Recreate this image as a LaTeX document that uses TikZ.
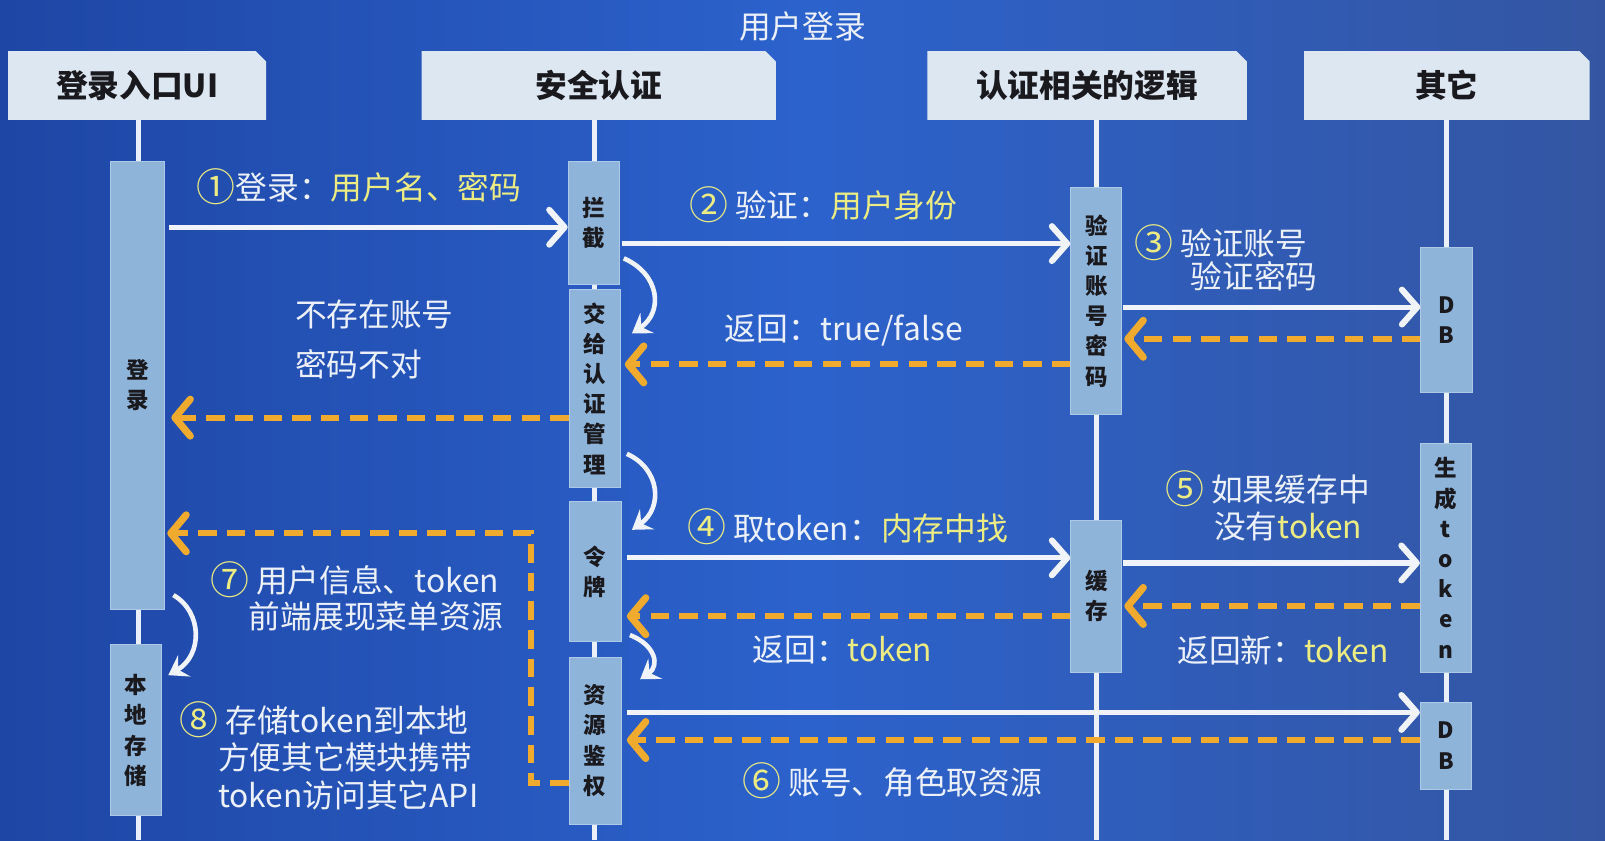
\documentclass[tikz,border=0pt]{standalone}
\usepackage{fontspec}
\setmainfont{Noto Sans CJK SC}
\usetikzlibrary{arrows.meta,calc}
\definecolor{bgl}{RGB}{30,70,165}
\definecolor{bgm}{RGB}{44,98,204}
\definecolor{bgr}{RGB}{52,86,162}
\definecolor{hdr}{RGB}{221,231,242}
\definecolor{actc}{RGB}{143,180,218}
\definecolor{actb}{RGB}{172,202,232}
\definecolor{lifec}{RGB}{235,240,248}
\definecolor{arrw}{RGB}{240,244,250}
\definecolor{orng}{RGB}{240,170,45}
\definecolor{ytxt}{RGB}{236,236,130}
\definecolor{wtxt}{RGB}{236,240,250}
\definecolor{boxtxt}{RGB}{25,25,30}
\newcommand{\yel}[1]{\textcolor{ytxt}{#1}}
\newcommand{\cnum}[1]{\textcolor{ytxt}{\fontsize{38}{38}\selectfont\raisebox{-1.5pt}{#1}}}
\tikzset{
  hdrbox/.style={rectangle, inner sep=0pt, minimum height=67pt, text=boxtxt,
    font=\bfseries\fontsize{31}{34}\selectfont,
    path picture={\fill[hdr] (path picture bounding box.south west) -- (path picture bounding box.north west)
      -- ($(path picture bounding box.north east)+(-10,0)$) -- ($(path picture bounding box.north east)+(0,10)$)
      -- (path picture bounding box.south east) -- cycle;}},
  act/.style={rectangle, fill=actc, draw=actb, line width=0.8pt, minimum width=50pt, inner sep=0pt,
    align=center, text=boxtxt, font=\bfseries\fontsize{22}{29.5}\selectfont},
  life/.style={draw=lifec, line width=5pt},
  warr/.style={draw=arrw, line width=5pt, -{Straight Barb[length=15pt,width=34pt,round,line width=6pt]}},
  oarr/.style={draw=orng, line width=6pt, dash pattern=on 18pt off 10pt, -{Straight Barb[length=15pt,width=36pt,round,line width=7pt]}},
  carr/.style={draw=arrw, line width=4.5pt, -{Stealth[length=18pt,width=24pt,inset=7pt]}},
  lbl/.style={text=wtxt, font=\fontsize{31}{34}\selectfont, inner sep=0pt, anchor=west},
}
\begin{document}
\begin{tikzpicture}[x=1pt,y=-1pt]
\useasboundingbox (0,0) rectangle (1568,821);
\shade[left color=bgl, right color=bgr, middle color=bgm] (0,0) rectangle (1568,821);

% title
\node[text=wtxt, font=\fontsize{31}{34}\selectfont, inner sep=0pt] (title) at (784,26) {用户登录};

% lifelines
\coordinate (l1t) at (135,117); \coordinate (l1b) at (135,821);
\coordinate (l2t) at (581,117); \coordinate (l2b) at (581,821);
\coordinate (l3t) at (1071,117); \coordinate (l3b) at (1071,821);
\coordinate (l4t) at (1413,117); \coordinate (l4b) at (1413,821);
\draw[life] (l1t) -- (l1b);
\draw[life] (l2t) -- (l2b);
\draw[life] (l3t) -- (l3b);
\draw[life] (l4t) -- (l4b);

% headers
\node[hdrbox, minimum width=252pt] (h1) at (134,83.5) {登录入口UI};
\node[hdrbox, minimum width=346pt] (h2) at (585,83.5) {安全认证};
\node[hdrbox, minimum width=312pt] (h3) at (1062,83.5) {认证相关的逻辑};
\node[hdrbox, minimum width=279pt] (h4) at (1413.5,83.5) {其它};

% activation boxes
\node[act, minimum width=53pt, minimum height=437pt] (login) at (134.5,376.5) {登\\录};
\node[act, minimum height=167pt] (store) at (133,713.5) {本\\地\\存\\储};
\node[act, minimum height=120pt] (lanjie) at (580,218) {拦\\截};
\node[act, minimum height=193pt] (jiaogei) at (581,379.5) {交\\给\\认\\证\\管\\理};
\node[act, minimum width=51pt, minimum height=137pt] (lingpai) at (581.5,558.5) {令\\牌};
\node[act, minimum width=51pt, minimum height=163pt] (ziyuan) at (581.5,723.5) {资\\源\\鉴\\权};
\node[act, minimum height=222pt] (verify) at (1071,294) {验\\证\\账\\号\\密\\码};
\node[act, minimum height=149pt] (cache) at (1071,582.5) {缓\\存};
\node[act, minimum height=141pt] (db1) at (1413,312.5) {D\\B};
\node[act, minimum height=224pt] (gen) at (1412.5,545) {生\\成\\t\\o\\k\\e\\n};
\node[act, minimum height=85pt] (db2) at (1412.5,728.5) {D\\B};

% messages
\draw[warr, shorten <=4pt] (login.east |- 0,222) -- (lanjie.west |- 0,222);
\draw[warr, shorten <=2pt] (lanjie.east |- 0,238) -- (verify.west |- 0,238);
\draw[warr, shorten <=1pt] (verify.east |- 0,300) -- (db1.west |- 0,300);
\draw[oarr, shorten >=2pt] (db1.west |- 0,331) -- (verify.east |- 0,331);
\draw[oarr, shorten >=4pt] (verify.west |- 0,356) -- (jiaogei.east |- 0,356);
\draw[oarr, shorten >=6pt] (jiaogei.west |- 0,408) -- (login.east |- 0,408);
\draw[warr, shorten <=5pt] (lingpai.east |- 0,545) -- (cache.west |- 0,545);
\draw[warr, shorten <=1pt] (cache.east |- 0,550) -- (gen.west |- 0,550);
\draw[oarr, shorten >=2pt] (gen.west |- 0,592) -- (cache.east |- 0,592);
\draw[oarr, shorten >=5pt] (cache.west |- 0,602) -- (lingpai.east |- 0,602);
\draw[warr, shorten <=5pt] (ziyuan.east |- 0,696) -- (db2.west |- 0,696);
\draw[oarr, shorten >=5pt] (db2.west |- 0,723) -- (ziyuan.east |- 0,723);
\coordinate (bend) at (519,0);
\draw[oarr, shorten >=2pt] (ziyuan.west |- 0,765) -| (bend |- 0,521) -- (login.east |- 0,521);

% internal step arrows
\draw[carr] ($(lanjie.south east)+(4,-26)$) .. controls (645,268) and (648,305) .. ($(jiaogei.north east)+(11,43)$);
\draw[carr] ($(jiaogei.south east)+(6,-33)$) .. controls (645,458) and (648,496) .. ($(lingpai.north east)+(10,28)$);
\draw[carr] ($(lingpai.south east)+(8,-7)$) .. controls (640,630) and (645,650) .. ($(ziyuan.north east)+(18,22)$);
\draw[carr] ($(login.south east)+(8,-14)$) .. controls (198,598) and (198,640) .. ($(store.north east)+(6,30)$);

% labels
\node[lbl] (t1) at (192,182) {\cnum{①}登录：\yel{用户名、密码}};
\node[lbl] (t2) at (673,200) {\cnum{②} 验证：\yel{用户身份}};
\node[lbl] (t3a) at (1108,237) {\cnum{③} 验证账号};
\node[lbl] (t3b) at (1163,270) {验证密码};
\node[lbl] (t4) at (708,323) {返回：true/false};
\node[lbl] (t5a) at (288,307) {不存在账号};
\node[lbl] (t5b) at (288,356) {密码不对};
\node[lbl] (t6) at (671,515) {\cnum{④} 取token：\yel{内存中找}};
\node[lbl] (t7a) at (1138,477) {\cnum{⑤} 如果缓存中};
\node[lbl] (t7b) at (1186,514) {没有\yel{token}};
\node[lbl] (t8) at (735,635) {返回：\yel{token}};
\node[lbl] (t9) at (1150,635) {返回新：\yel{token}};
\node[lbl] (t10) at (725,763) {\cnum{⑥} 账号、角色取资源};
\node[lbl] (t11a) at (205,566) {\cnum{⑦} 用户信息、token};
\node[lbl] (t11b) at (243,602) {前端展现菜单资源};
\node[lbl] (t12a) at (175,703) {\cnum{⑧} 存储token到本地};
\node[lbl] (t12b) at (213,740) {方便其它模块携带};
\node[lbl] (t12c) at (213,777) {token访问其它API};
\end{tikzpicture}
\end{document}
